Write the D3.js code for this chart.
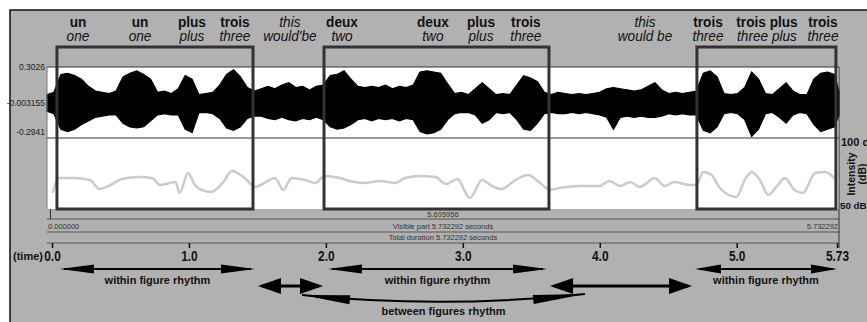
<!DOCTYPE html>
<html>
<head>
<meta charset="utf-8">
<script src="https://cdn.jsdelivr.net/npm/d3@7"></script>
<style>
    body { margin: 0; background: #fff; }
    svg { display: block; font-family: "Liberation Sans", Arial, sans-serif; }
</style>
</head>
<body>
<svg id="chart" width="867" height="322"></svg>
<script>
// 数据
const duration = 5.732292;
const ampMax = 0.3026, ampMid = -0.003155, ampMin = -0.2941;
const waveStep = 0.05; // seconds between envelope samples

const waveTop = [
    0.07, 0.09, 0.24, 0.25, 0.23, 0.20, 0.14, 0.10, 0.09, 0.08,
    0.10, 0.22, 0.25, 0.27, 0.24, 0.20, 0.09, 0.10, 0.08, 0.12,
    0.23, 0.20, 0.07, 0.08, 0.09, 0.15, 0.24, 0.28, 0.22, 0.13,
    0.10, 0.12, 0.14, 0.12, 0.15, 0.17, 0.13, 0.14, 0.11, 0.14,
    0.15, 0.23, 0.24, 0.27, 0.20, 0.14, 0.13, 0.14, 0.13, 0.15,
    0.12, 0.14, 0.13, 0.15, 0.26, 0.27, 0.26, 0.25, 0.16, 0.08,
    0.09, 0.07, 0.12, 0.17, 0.12, 0.07, 0.08, 0.07, 0.15, 0.23,
    0.21, 0.18, 0.09, 0.07, 0.09, 0.08, 0.07, 0.08, 0.07, 0.08,
    0.09, 0.12, 0.13, 0.12, 0.11, 0.10, 0.11, 0.14, 0.17, 0.11,
    0.08, 0.09, 0.08, 0.09, 0.10, 0.25, 0.27, 0.22, 0.08, 0.07,
    0.08, 0.13, 0.26, 0.20, 0.08, 0.07, 0.12, 0.17, 0.10, 0.07,
    0.07, 0.20, 0.25, 0.26, 0.24, 0.10
];
const waveBottom = [
    -0.07, -0.09, -0.22, -0.24, -0.22, -0.18, -0.15, -0.12, -0.11, -0.10,
    -0.10, -0.17, -0.20, -0.21, -0.20, -0.15, -0.10, -0.09, -0.10, -0.10,
    -0.22, -0.25, -0.08, -0.08, -0.09, -0.13, -0.21, -0.23, -0.20, -0.13,
    -0.11, -0.11, -0.13, -0.14, -0.12, -0.14, -0.15, -0.13, -0.14, -0.12,
    -0.14, -0.20, -0.22, -0.21, -0.18, -0.14, -0.13, -0.15, -0.13, -0.14,
    -0.13, -0.15, -0.13, -0.14, -0.24, -0.26, -0.25, -0.22, -0.14, -0.09,
    -0.08, -0.08, -0.10, -0.17, -0.14, -0.08, -0.09, -0.08, -0.14, -0.22,
    -0.23, -0.17, -0.09, -0.08, -0.09, -0.09, -0.08, -0.09, -0.08, -0.09,
    -0.10, -0.12, -0.22, -0.12, -0.11, -0.12, -0.11, -0.12, -0.12, -0.11,
    -0.09, -0.10, -0.09, -0.10, -0.10, -0.23, -0.25, -0.20, -0.09, -0.08,
    -0.09, -0.14, -0.28, -0.22, -0.09, -0.08, -0.12, -0.17, -0.10, -0.08,
    -0.09, -0.18, -0.24, -0.22, -0.20, -0.10
];

const intensityTime = [
    0.04, 0.09, 0.20, 0.31, 0.38, 0.46, 0.54, 0.67, 0.76, 0.82,
    0.93, 0.96, 1.02, 1.07, 1.12, 1.19, 1.27, 1.34, 1.43, 1.51,
    1.56, 1.65, 1.71, 1.77, 1.87, 1.94, 2.01, 2.12, 2.19, 2.30,
    2.41, 2.52, 2.59, 2.70, 2.81, 2.89, 2.97, 3.06, 3.15, 3.22,
    3.29, 3.39, 3.48, 3.57, 3.64, 3.71, 3.86, 4.00, 4.07, 4.15,
    4.22, 4.29, 4.40, 4.47, 4.54, 4.65, 4.70, 4.75, 4.81, 4.87,
    4.99, 5.05, 5.10, 5.16, 5.22, 5.29, 5.34, 5.41, 5.47, 5.56,
    5.63, 5.70
];
const intensityDb = [
    61.3, 71.8, 71.8, 70.4, 64.1, 66.9, 71.1, 72.5, 71.8, 66.9,
    69.0, 61.3, 75.4, 66.9, 63.4, 62.0, 68.3, 76.8, 71.8, 65.5,
    67.6, 71.8, 63.4, 71.8, 70.4, 68.3, 73.2, 71.8, 69.7, 68.3,
    69.7, 68.3, 71.8, 73.2, 72.5, 67.6, 71.1, 57.7, 70.4, 66.2,
    64.1, 70.4, 73.9, 68.3, 63.4, 64.8, 66.2, 66.2, 69.7, 66.2,
    69.0, 65.5, 71.8, 66.2, 69.0, 66.9, 66.9, 76.1, 73.9, 64.8,
    58.5, 70.4, 76.1, 70.4, 59.9, 66.9, 71.8, 63.4, 61.3, 75.4,
    76.1, 71.8
];

// 单词标注
const wordTime = [0.224, 0.673, 1.049, 1.360, 1.758, 2.135, 2.793, 3.141, 3.466, 4.328, 4.784, 5.211, 5.616];
const wordTop = ['un', 'un', 'plus', 'trois', 'this', 'deux', 'deux', 'plus', 'trois', 'this', 'trois', 'trois plus', 'trois'];
const wordBottom = ['one', 'one', 'plus', 'three', "would'be", 'two', 'two', 'plus', 'three', 'would be', 'three', 'three plus', 'three'];
const wordBold = [1, 1, 1, 1, 0, 1, 1, 1, 1, 0, 1, 1, 1];

// 三个 figure 框
const figureStart = [0.072, 2.005, 4.704];
const figureEnd = [1.491, 3.633, 5.710];

// 时间轴
const tickValues = [0, 1, 2, 3, 4, 5, duration];
const tickLabels = ['0.0', '1.0', '2.0', '3.0', '4.0', '5.0', '5.73'];

// 节奏箭头
const withinStart = [0.058, 2.015, 4.695];
const withinEnd = [1.482, 3.615, 5.732];
const betweenStart = [1.504, 3.637];
const betweenEnd = [1.979, 4.674];
const arcStart = 1.826, arcEnd = 3.892;

const svg = d3.select('#chart');
const x = d3.scaleLinear().domain([0, duration]).range([47, 839]);
const xTime = d3.scaleLinear().domain([0, duration]).range([52, 837]);
const yWave = d3.scaleLinear().domain([ampMin, ampMax]).range([138, 67]);
const yInt = d3.scaleLinear().domain([50, 100]).range([209, 138]);

// 灰色底板
svg.append('rect').attr('x', 10).attr('y', 10).attr('width', 870).attr('height', 320)
    .attr('fill', '#b1b1b1').attr('stroke', '#111').attr('stroke-width', 1.5);

// 白色信号区
svg.append('rect').attr('x', x(0)).attr('y', yWave(ampMax))
    .attr('width', x(duration) - x(0)).attr('height', yInt(50) - yWave(ampMax))
    .attr('fill', '#fff');

// 波形
const waveData = waveTop.map((v, i) => ({ t: Math.min(i * waveStep, duration), top: v, bottom: waveBottom[i] }));
const area = d3.area()
    .x(d => x(d.t))
    .y0(d => yWave(d.bottom))
    .y1(d => yWave(d.top));
svg.append('path').datum(waveData).attr('d', area)
    .attr('fill', '#000').attr('stroke', '#000').attr('stroke-width', 1.2);

// 强度曲线
const intLine = d3.line()
    .x(d => x(d[0]))
    .y(d => yInt(d[1]))
    .curve(d3.curveMonotoneX);
svg.append('path').datum(intensityTime.map((t, i) => [t, intensityDb[i]])).attr('d', intLine)
    .attr('fill', 'none').attr('stroke', '#cbcbcb').attr('stroke-width', 2.5).attr('stroke-linejoin', 'round');

// 面板线
const panelLines = svg.append('g').attr('stroke', '#333').attr('stroke-width', 1);
[yWave(ampMax), yWave(ampMin)].forEach(yy => {
    panelLines.append('line').attr('x1', x(0)).attr('x2', x(duration)).attr('y1', yy).attr('y2', yy);
});
[219, 232, 243].forEach(yy => {
    panelLines.append('line').attr('x1', x(0)).attr('x2', x(duration)).attr('y1', yy).attr('y2', yy).attr('stroke', '#555');
});
panelLines.append('line').attr('x1', x(0)).attr('x2', x(0)).attr('y1', yWave(ampMax)).attr('y2', yInt(50)).attr('stroke', '#777');
panelLines.append('line').attr('x1', x(duration)).attr('x2', x(duration)).attr('y1', yWave(ampMax)).attr('y2', 248);
panelLines.append('line').attr('x1', 50.5).attr('x2', 50.5).attr('y1', 209).attr('y2', 219);

// 振幅标签
const ampLabels = svg.append('g').attr('font-size', 8.5).attr('fill', '#222').attr('text-anchor', 'end');
[[ampMax, '0.3026', 3], [ampMid, '-0.003155', 3], [ampMin, '-0.2941', -3]].forEach(([v, s, dy]) => {
    ampLabels.append('text').attr('x', 45).attr('y', yWave(v) + dy).text(s);
});

// dB 标签
const dbLabels = svg.append('g').attr('font-weight', 'bold').attr('fill', '#111');
dbLabels.append('text').attr('x', 841).attr('y', yInt(100) + 8).attr('font-size', 11).text('100 dB');
dbLabels.append('text').attr('x', 840).attr('y', yInt(50)).attr('font-size', 9.8).text('50 dB');
dbLabels.append('text').attr('transform', 'translate(855,174) rotate(-90)').attr('text-anchor', 'middle')
    .attr('font-size', 10.5).text('Intensity');
dbLabels.append('text').attr('transform', 'translate(866,174) rotate(-90)').attr('text-anchor', 'middle')
    .attr('font-size', 10.5).text('(dB)');

// 底部信息行
const info = svg.append('g').attr('font-size', 7.5).attr('fill', '#333');
const midX = (x(0) + x(duration)) / 2;
info.append('text').attr('x', midX).attr('y', 217).attr('text-anchor', 'middle').text('5.695956');
info.append('text').attr('x', midX).attr('y', 229).attr('text-anchor', 'middle').text('Visible part 5.732292 seconds');
info.append('text').attr('x', midX).attr('y', 240).attr('text-anchor', 'middle').text('Total duration 5.732292 seconds');
info.append('text').attr('x', x(0) + 1).attr('y', 229).text('0.000000');
info.append('text').attr('x', x(duration) - 1).attr('y', 229).attr('text-anchor', 'end').text('5.732292');

// figure 框
svg.append('g').selectAll('rect').data(figureStart).enter().append('rect')
    .attr('x', d => x(d))
    .attr('y', 47)
    .attr('width', (d, i) => x(figureEnd[i]) - x(d))
    .attr('height', yInt(50) - 47)
    .attr('fill', 'none').attr('stroke', '#333').attr('stroke-width', 3);

// 单词
const words = svg.append('g').attr('fill', '#111');
wordTime.forEach((t, i) => {
    words.append('text')
        .attr('transform', `translate(${x(t)},27) scale(0.88,1)`)
        .attr('text-anchor', 'middle')
        .attr('font-size', 15.5)
        .attr('font-weight', wordBold[i] ? 'bold' : 'normal')
        .attr('font-style', wordBold[i] ? 'normal' : 'italic')
        .text(wordTop[i]);
    words.append('text')
        .attr('transform', `translate(${x(t)},41) scale(0.88,1)`)
        .attr('text-anchor', 'middle')
        .attr('font-size', 15.5)
        .attr('font-style', 'italic')
        .text(wordBottom[i]);
});

// 时间轴
const timeAxis = d3.axisBottom(xTime)
    .tickValues(tickValues)
    .tickFormat((d, i) => tickLabels[i])
    .tickSize(5)
    .tickPadding(3);
const axisG = svg.append('g').attr('transform', 'translate(0,243)').call(timeAxis);
axisG.select('.domain').remove();
axisG.selectAll('line').attr('stroke', '#111').attr('stroke-width', 1.5);
axisG.selectAll('text')
    .attr('font-family', '"Liberation Sans", Arial, sans-serif')
    .attr('font-size', 14).attr('font-weight', 'bold').attr('fill', '#111')
    .attr('transform', 'scale(0.85,1)');
svg.append('text').attr('x', 13).attr('y', 260).attr('font-size', 11).attr('font-weight', 'bold').attr('fill', '#111').text('(time)');

// 箭头
const arrowHead = (g, tx, ty, ang, len, half) => {
    const c = Math.cos(ang), s = Math.sin(ang);
    const bx = tx - len * c, by = ty - len * s;
    g.append('polygon')
        .attr('points', `${tx},${ty} ${bx - half * s},${by + half * c} ${bx + half * s},${by - half * c}`)
        .attr('fill', '#000');
};
const arrows = svg.append('g');
const straightArrow = (x1, x2, yy, len, half, width) => {
    arrows.append('line').attr('x1', x1 + 4).attr('x2', x2 - 4).attr('y1', yy).attr('y2', yy)
        .attr('stroke', '#000').attr('stroke-width', width);
    arrowHead(arrows, x1, yy, Math.PI, len, half);
    arrowHead(arrows, x2, yy, 0, len, half);
};
withinStart.forEach((t, i) => {
    const x1 = xTime(t), x2 = xTime(withinEnd[i]);
    straightArrow(x1, x2, 269, i === 2 ? 26 : 34, 4.5, 2);
    arrows.append('text').attr('x', (x1 + x2) / 2).attr('y', 284).attr('text-anchor', 'middle')
        .attr('font-size', 11).attr('font-weight', 'bold').attr('fill', '#111').text('within figure rhythm');
});
betweenStart.forEach((t, i) => {
    straightArrow(xTime(t), xTime(betweenEnd[i]), 286, 23, 8, 3);
});
// 弧形箭头
const p0 = [xTime(arcStart), 295], p1 = [xTime(arcEnd), 294];
const ctrl = [(p0[0] + p1[0]) / 2, 309];
arrows.append('path')
    .attr('d', `M${p0[0]},${p0[1]} Q${ctrl[0]},${ctrl[1]} ${p1[0]},${p1[1]}`)
    .attr('fill', 'none').attr('stroke', '#000').attr('stroke-width', 2);
arrowHead(arrows, p0[0], p0[1], Math.atan2(p0[1] - ctrl[1], p0[0] - ctrl[0]), 48, 4.5);
arrowHead(arrows, p1[0], p1[1], Math.atan2(p1[1] - ctrl[1], p1[0] - ctrl[0]), 52, 4.5);
arrows.append('text').attr('x', ctrl[0]).attr('y', 315).attr('text-anchor', 'middle')
    .attr('font-size', 11).attr('font-weight', 'bold').attr('fill', '#111').text('between figures rhythm');
</script>
</body>
</html>
